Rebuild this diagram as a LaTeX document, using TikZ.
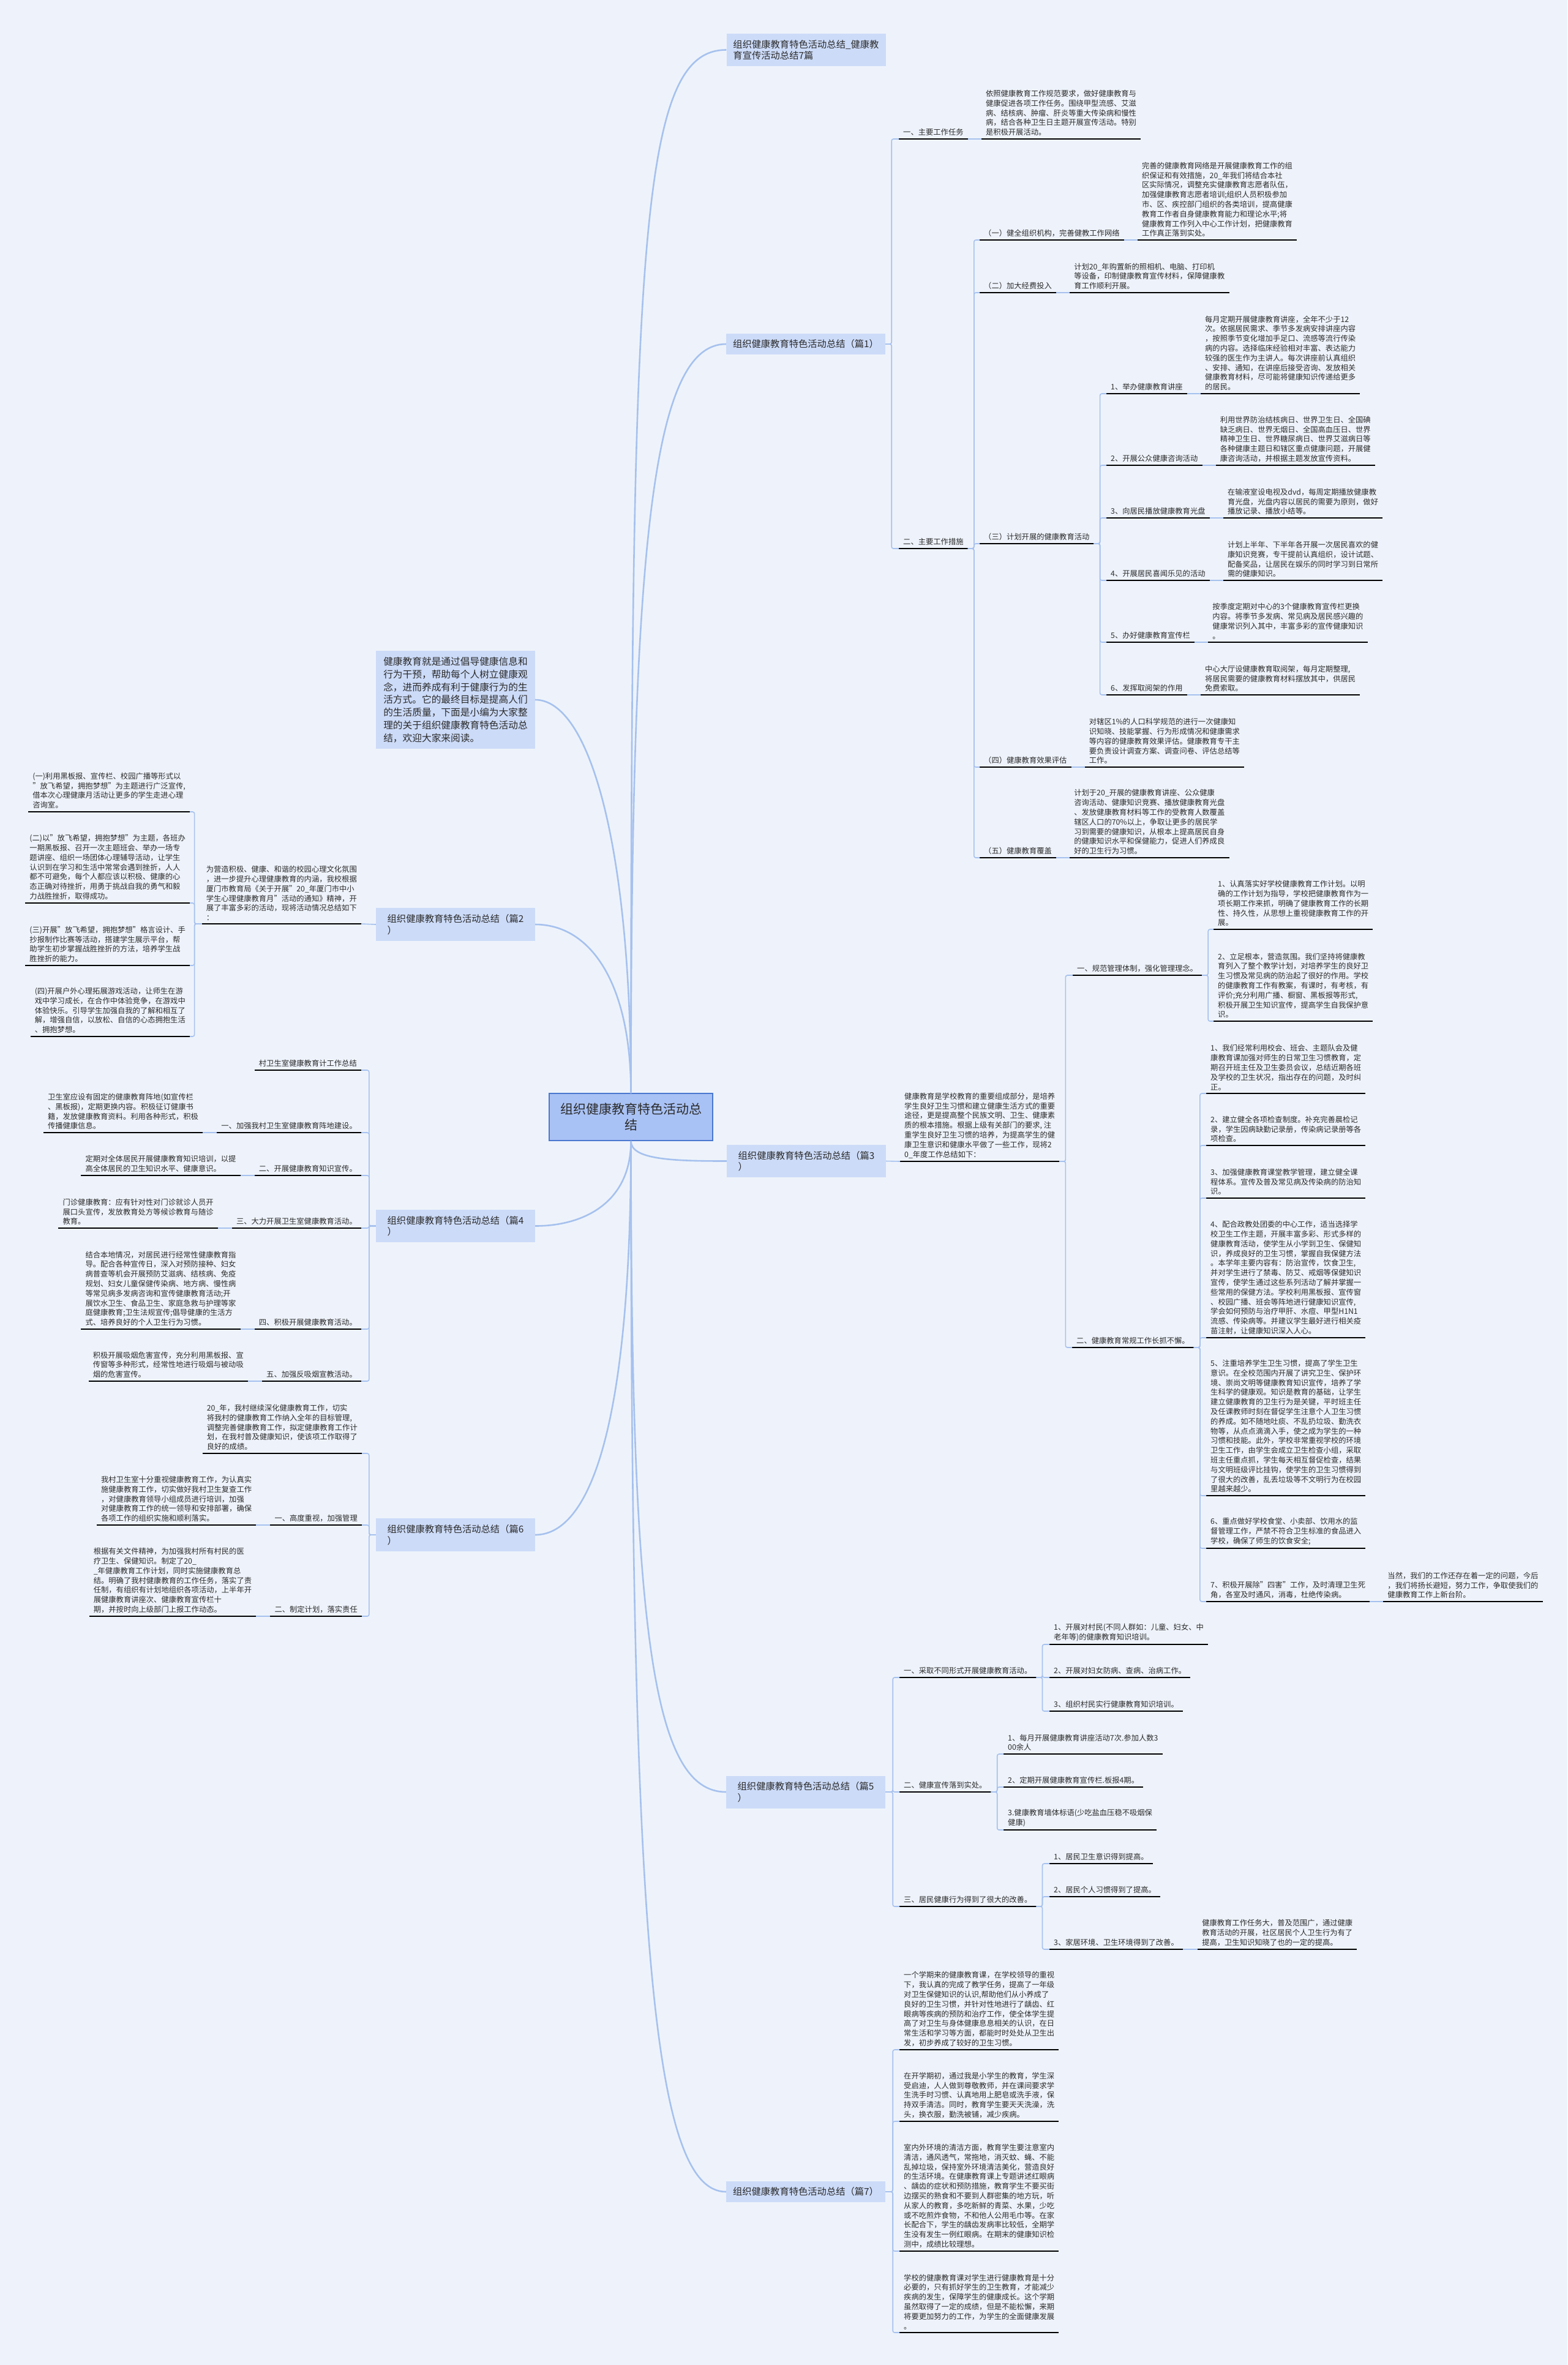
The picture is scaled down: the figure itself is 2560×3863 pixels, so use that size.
\documentclass[tikz,border=0pt]{standalone}
\usepackage{fontspec}
\setmainfont{Noto Sans CJK SC}
\definecolor{blue050}{HTML}{EEF3FB}
\definecolor{blue200}{HTML}{CCDBF8}
\definecolor{blue300}{HTML}{A9C2F5}
\definecolor{blue400}{HTML}{A6C1EE}
\definecolor{blue700}{HTML}{4A78CF}
\definecolor{ink900}{HTML}{2B2B2B}
\newcommand{\txtsmall}{\fontsize{12.3pt}{15.8pt}\selectfont}
\newcommand{\txttopic}{\fontsize{15.3pt}{18.5pt}\selectfont}
\newcommand{\txtintro}{\fontsize{15.7pt}{20.8pt}\selectfont}
\newcommand{\txtroot}{\fontsize{21pt}{26.7pt}\selectfont}
\tikzset{
  rootbox/.style ={fill=blue300, draw=blue700, line width=1.5pt, align=center,
                   minimum width=267pt, minimum height=77pt, font=\txtroot,
                   text=ink900},
  topic/.style   ={fill=blue200, align=left, minimum width=260pt,
                   inner xsep=9pt, inner ysep=10pt, font=\txttopic, text=ink900},
  introbox/.style={fill=blue200, align=left, inner xsep=12pt, inner ysep=10pt,
                   font=\txtintro, text=ink900},
  uline/.style   ={draw=black, line width=2.2pt},
  item/.style    ={font=\txtsmall, text=ink900, align=left, inner xsep=7pt,
                   inner ysep=5pt, anchor=south west,
                   append after command={(\tikzlastnode.south west)
                     edge[uline] (\tikzlastnode.south east)}},
  litem/.style   ={item, anchor=south east},
  link/.style    ={draw=blue400, line width=1.6pt, rounded corners=3pt},
  branch/.style  ={draw=blue400, line width=2.6pt}
}

\begin{document}
\begin{tikzpicture}[x=1pt, y=-1pt]
\useasboundingbox (0,0) rectangle (2560,3863);
\fill[blue050] (0,0) rectangle (2560,3863);

% root and intro
\node[rootbox] (root) at (1030.5,1824.5) {组织健康教育特色活动总\\结};
\node[introbox] (intro) at (744,1143)
  {健康教育就是通过倡导健康信息和\\行为干预，帮助每个人树立健康观\\念，进而养成有利于健康行为的生\\活方式。它的最终目标是提高人们\\的生活质量，下面是小编为大家整\\理的关于组织健康教育特色活动总\\结，欢迎大家来阅读。};

% topics
\node[topic] (b0) at (1316.5,81.5) {组织健康教育特色活动总结\_健康教\\育宣传活动总结7篇};
\node[topic] (b1) at (1316,562) {组织健康教育特色活动总结（篇1）};
\node[topic] (b3) at (1317,1896.5) {组织健康教育特色活动总结（篇3\\）};
\node[topic] (b5) at (1316,2927) {组织健康教育特色活动总结（篇5\\）};
\node[topic] (b7) at (1316,3580) {组织健康教育特色活动总结（篇7）};
\node[topic] (b2) at (744,1510) {组织健康教育特色活动总结（篇2\\）};
\node[topic] (b4) at (744,2002.5) {组织健康教育特色活动总结（篇4\\）};
\node[topic] (b6) at (744,2507) {组织健康教育特色活动总结（篇6\\）};

% --- 篇1
\node[item] (b1a) at (1468,227) {一、主要工作任务};
\node[item] (b1a-t) at ([xshift=22pt]b1a.south east)
  {依照健康教育工作规范要求，做好健康教育与\\健康促进各项工作任务。围绕甲型流感、艾滋\\病、结核病、肿瘤、肝炎等重大传染病和慢性\\病，结合各种卫生日主题开展宣传活动。特别\\是积极开展活动。};
\node[item] (b1b) at (1468,896) {二、主要工作措施};
\node[item] (b1b1) at (1600,392) {（一）健全组织机构，完善健教工作网络};
\node[item] (b1b1-t) at ([xshift=22pt]b1b1.south east)
  {完善的健康教育网络是开展健康教育工作的组\\织保证和有效措施，20\_年我们将结合本社\\区实际情况，调整充实健康教育志愿者队伍，\\加强健康教育志愿者培训;组织人员积极参加\\市、区、疾控部门组织的各类培训，提高健康\\教育工作者自身健康教育能力和理论水平;将\\健康教育工作列入中心工作计划，把健康教育\\工作真正落到实处。};
\node[item] (b1b2) at (1600,478) {（二）加大经费投入};
\node[item] (b1b2-t) at ([xshift=22pt]b1b2.south east)
  {计划20\_年购置新的照相机、电脑、打印机\\等设备，印制健康教育宣传材料，保障健康教\\育工作顺利开展。};
\node[item] (b1b3) at (1600,888) {（三）计划开展的健康教育活动};
\node[item] (b1b3a) at (1807,643) {1、举办健康教育讲座};
\node[item] (b1b3a-t) at ([xshift=22pt]b1b3a.south east)
  {每月定期开展健康教育讲座，全年不少于12\\次。依据居民需求、季节多发病安排讲座内容\\，按照季节变化增加手足口、流感等流行传染\\病的内容。选择临床经验相对丰富、表达能力\\较强的医生作为主讲人。每次讲座前认真组织\\、安排、通知，在讲座后接受咨询、发放相关\\健康教育材料，尽可能将健康知识传递给更多\\的居民。};
\node[item] (b1b3b) at (1807,760) {2、开展公众健康咨询活动};
\node[item] (b1b3b-t) at ([xshift=22pt]b1b3b.south east)
  {利用世界防治结核病日、世界卫生日、全国碘\\缺乏病日、世界无烟日、全国高血压日、世界\\精神卫生日、世界糖尿病日、世界艾滋病日等\\各种健康主题日和辖区重点健康问题，开展健\\康咨询活动，并根据主题发放宣传资料。};
\node[item] (b1b3c) at (1807,846) {3、向居民播放健康教育光盘};
\node[item] (b1b3c-t) at ([xshift=22pt]b1b3c.south east)
  {在输液室设电视及dvd，每周定期播放健康教\\育光盘，光盘内容以居民的需要为原则，做好\\播放记录、播放小结等。};
\node[item] (b1b3d) at (1807,948) {4、开展居民喜闻乐见的活动};
\node[item] (b1b3d-t) at ([xshift=22pt]b1b3d.south east)
  {计划上半年、下半年各开展一次居民喜欢的健\\康知识竞赛，专干提前认真组织，设计试题、\\配备奖品，让居民在娱乐的同时学习到日常所\\需的健康知识。};
\node[item] (b1b3e) at (1807,1049) {5、办好健康教育宣传栏};
\node[item] (b1b3e-t) at ([xshift=22pt]b1b3e.south east)
  {按季度定期对中心的3个健康教育宣传栏更换\\内容。将季节多发病、常见病及居民感兴趣的\\健康常识列入其中，丰富多彩的宣传健康知识\\。};
\node[item] (b1b3f) at (1807,1135) {6、发挥取阅架的作用};
\node[item] (b1b3f-t) at ([xshift=22pt]b1b3f.south east)
  {中心大厅设健康教育取阅架，每月定期整理,\\将居民需要的健康教育材料摆放其中，供居民\\免费索取。};
\node[item] (b1b4) at (1600,1253) {（四）健康教育效果评估};
\node[item] (b1b4-t) at ([xshift=22pt]b1b4.south east)
  {对辖区1\%的人口科学规范的进行一次健康知\\识知晓、技能掌握、行为形成情况和健康需求\\等内容的健康教育效果评估。健康教育专干主\\要负责设计调查方案、调查问卷、评估总结等\\工作。};
\node[item] (b1b5) at (1600,1401) {（五）健康教育覆盖};
\node[item] (b1b5-t) at ([xshift=22pt]b1b5.south east)
  {计划于20\_开展的健康教育讲座、公众健康\\咨询活动、健康知识竞赛、播放健康教育光盘\\、发放健康教育材料等工作的受教育人数覆盖\\辖区人口的70\%以上，争取让更多的居民学\\习到需要的健康知识，从根本上提高居民自身\\的健康知识水平和保健能力，促进人们养成良\\好的卫生行为习惯。};

% --- 篇3
\node[item] (b3t) at (1470,1897)
  {健康教育是学校教育的重要组成部分，是培养\\学生良好卫生习惯和建立健康生活方式的重要\\途径，更是提高整个民族文明、卫生、健康素\\质的根本措施。根据上级有关部门的要求, 注\\重学生良好卫生习惯的培养，为提高学生的健\\康卫生意识和健康水平做了一些工作，现将2\\0\_年度工作总结如下：};
\node[item] (b3a) at (1752,1593) {一、规范管理体制，强化管理理念。};
\node[item] (b3a1) at (1982,1518)
  {1、认真落实好学校健康教育工作计划。以明\\确的工作计划为指导，学校把健康教育作为一\\项长期工作来抓，明确了健康教育工作的长期\\性、持久性，从思想上重视健康教育工作的开\\展。};
\node[item] (b3a2) at (1982,1668)
  {2、立足根本，营造氛围。我们坚持将健康教\\育列入了整个教学计划，对培养学生的良好卫\\生习惯及常见病的防治起了很好的作用。学校\\的健康教育工作有教案，有课时，有考核，有\\评价;充分利用广播、橱窗、黑板报等形式,\\积极开展卫生知识宣传，提高学生自我保护意\\识。};
\node[item] (b3b) at (1751,2201) {二、健康教育常规工作长抓不懈。};
\node[item] (b3b1) at (1970,1786)
  {1、我们经常利用校会、班会、主题队会及健\\康教育课加强对师生的日常卫生习惯教育，定\\期召开班主任及卫生委员会议，总结近期各班\\及学校的卫生状况，指出存在的问题，及时纠\\正。};
\node[item] (b3b2) at (1970,1871)
  {2、建立健全各项检查制度。补充完善晨检记\\录，学生因病缺勤记录册，传染病记录册等各\\项检查。};
\node[item] (b3b3) at (1970,1957)
  {3、加强健康教育课堂教学管理，建立健全课\\程体系。宣传及普及常见病及传染病的防治知\\识。};
\node[item] (b3b4) at (1970,2185)
  {4、配合政教处团委的中心工作，适当选择学\\校卫生工作主题，开展丰富多彩、形式多样的\\健康教育活动，使学生从小学到卫生、保健知\\识，养成良好的卫生习惯，掌握自我保健方法\\。本学年主要内容有：防治宣传，饮食卫生,\\并对学生进行了禁毒、防艾、戒烟等保健知识\\宣传，使学生通过这些系列活动了解并掌握一\\些常用的保健方法。学校利用黑板报、宣传窗\\、校园广播、班会等阵地进行健康知识宣传,\\学会如何预防与治疗甲肝、水痘、甲型H1N1\\流感、传染病等。并建议学生最好进行相关疫\\苗注射，让健康知识深入人心。};
\node[item] (b3b5) at (1970,2443)
  {5、注重培养学生卫生习惯，提高了学生卫生\\意识。在全校范围内开展了讲究卫生、保护环\\境、崇尚文明等健康教育知识宣传，培养了学\\生科学的健康观。知识是教育的基础，让学生\\建立健康教育的卫生行为是关键，平时班主任\\及任课教师时刻在督促学生注意个人卫生习惯\\的养成。如不随地吐痰、不乱扔垃圾、勤洗衣\\物等，从点点滴滴入手，使之成为学生的一种\\习惯和技能。此外，学校非常重视学校的环境\\卫生工作，由学生会成立卫生检查小组，采取\\班主任重点抓，学生每天相互督促检查，结果\\与文明班级评比挂钩，使学生的卫生习惯得到\\了很大的改善，乱丢垃圾等不文明行为在校园\\里越来越少。};
\node[item] (b3b6) at (1970,2529)
  {6、重点做好学校食堂、小卖部、饮用水的监\\督管理工作，严禁不符合卫生标准的食品进入\\学校，确保了师生的饮食安全;};
\node[item] (b3b7) at (1970,2616)
  {7、积极开展除"四害"工作，及时清理卫生死\\角，各室及时通风，消毒，杜绝传染病。};
\node[item] (b3b7-t) at ([xshift=22pt]b3b7.south east)
  {当然，我们的工作还存在着一定的问题，今后\\，我们将扬长避短，努力工作，争取使我们的\\健康教育工作上新台阶。};

% --- 篇5
\node[item] (b5a) at (1469,2740) {一、采取不同形式开展健康教育活动。};
\node[item] (b5a1) at (1714,2686) {1、开展对村民(不同人群如：儿童、妇女、中\\老年等)的健康教育知识培训。};
\node[item] (b5a2) at (1714,2740) {2、开展对妇女防病、查病、治病工作。};
\node[item] (b5a3) at (1714,2795) {3、组织村民实行健康教育知识培训。};
\node[item] (b5b) at (1469,2927) {二、健康宣传落到实处。};
\node[item] (b5b1) at (1639,2865) {1、每月开展健康教育讲座活动7次.参加人数3\\00余人};
\node[item] (b5b2) at (1639,2919) {2、定期开展健康教育宣传栏.板报4期。};
\node[item] (b5b3) at (1639,2989) {3.健康教育墙体标语(少吃盐血压稳不吸烟保\\健康)};
\node[item] (b5c) at (1469,3114) {三、居民健康行为得到了很大的改善。};
\node[item] (b5c1) at (1714,3044) {1、居民卫生意识得到提高。};
\node[item] (b5c2) at (1714,3098) {2、居民个人习惯得到了提高。};
\node[item] (b5c3) at (1714,3184) {3、家居环境、卫生环境得到了改善。};
\node[item] (b5c3-t) at ([xshift=24pt]b5c3.south east)
  {健康教育工作任务大，普及范围广，通过健康\\教育活动的开展，社区居民个人卫生行为有了\\提高，卫生知识知晓了也的一定的提高。};

% --- 篇7
\node[item] (b7a) at (1469,3348)
  {一个学期来的健康教育课，在学校领导的重视\\下，我认真的完成了教学任务，提高了一年级\\对卫生保健知识的认识,帮助他们从小养成了\\良好的卫生习惯，并针对性地进行了龋齿、红\\眼病等疾病的预防和治疗工作，使全体学生提\\高了对卫生与身体健康息息相关的认识，在日\\常生活和学习等方面，都能时时处处从卫生出\\发，初步养成了较好的卫生习惯。};
\node[item] (b7b) at (1469,3465)
  {在开学期初，通过我是小学生的教育，学生深\\受启迪，人人做到尊敬教师，并在课间要求学\\生洗手时习惯、认真地用上肥皂或洗手液，保\\持双手清洁。同时，教育学生要天天洗澡，洗\\头，换衣服，勤洗被铺，减少疾病。};
\node[item] (b7c) at (1469,3677)
  {室内外环境的清洁方面，教育学生要注意室内\\清洁，通风透气，常拖地，消灭蚊、蝇、不能\\乱掉垃圾，保持室外环境清洁美化，营造良好\\的生活环境。在健康教育课上专题讲述红眼病\\、龋齿的症状和预防措施，教育学生不要买街\\边摆买的熟食和不要到人群密集的地方玩，听\\从家人的教育，多吃新鲜的青菜、水果，少吃\\或不吃煎炸食物，不和他人公用毛巾等。在家\\长配合下，学生的龋齿发病率比较低，全期学\\生没有发生一例红眼病。在期末的健康知识检\\测中，成绩比较理想。};
\node[item] (b7d) at (1469,3810)
  {学校的健康教育课对学生进行健康教育是十分\\必要的，只有抓好学生的卫生教育，才能减少\\疾病的发生，保障学生的健康成长。这个学期\\虽然取得了一定的成绩，但是不能松懈，来期\\将要更加努力的工作，为学生的全面健康发展\\。};

% --- 篇2
\node[litem] (b2t) at (590,1509)
  {为营造积极、健康、和谐的校园心理文化氛围\\，进一步提升心理健康教育的内涵，我校根据\\厦门市教育局《关于开展"20\_年厦门市中小\\学生心理健康教育月"活动的通知》精神，开\\展了丰富多彩的活动，现将活动情况总结如下\\：};
\node[litem] (b2a) at (310,1326)
  {(一)利用黑板报、宣传栏、校园广播等形式以\\"放飞希望，拥抱梦想"为主题进行广泛宣传,\\借本次心理健康月活动让更多的学生走进心理\\咨询室。};
\node[litem] (b2b) at (310,1475)
  {(二)以"放飞希望，拥抱梦想"为主题，各班办\\一期黑板报、召开一次主题班会、举办一场专\\题讲座、组织一场团体心理辅导活动，让学生\\认识到在学习和生活中常常会遇到挫折，人人\\都不可避免，每个人都应该以积极、健康的心\\态正确对待挫折，用勇于挑战自我的勇气和毅\\力战胜挫折，取得成功。};
\node[litem] (b2c) at (310,1577)
  {(三)开展"放飞希望，拥抱梦想"格言设计、手\\抄报制作比赛等活动，搭建学生展示平台，帮\\助学生初步掌握战胜挫折的方法，培养学生战\\胜挫折的能力。};
\node[litem] (b2d) at (310,1693)
  {(四)开展户外心理拓展游戏活动，让师生在游\\戏中学习成长，在合作中体验竞争，在游戏中\\体验快乐。引导学生加强自我的了解和相互了\\解，增强自信，以放松、自信的心态拥抱生活\\、拥抱梦想。};

% --- 篇4
\node[litem] (b4a) at (590,1748) {村卫生室健康教育计工作总结};
\node[litem] (b4b) at (590,1850) {一、加强我村卫生室健康教育阵地建设。};
\node[litem] (b4b-t) at ([xshift=-23pt]b4b.south west)
  {卫生室应设有固定的健康教育阵地(如宣传栏\\、黑板报)，定期更换内容。积极征订健康书\\籍，发放健康教育资料。利用各种形式，积极\\传播健康信息。};
\node[litem] (b4c) at (590,1920) {二、开展健康教育知识宣传。};
\node[litem] (b4c-t) at ([xshift=-23pt]b4c.south west)
  {定期对全体居民开展健康教育知识培训，以提\\高全体居民的卫生知识水平、健康意识。};
\node[litem] (b4d) at (590,2006) {三、大力开展卫生室健康教育活动。};
\node[litem] (b4d-t) at ([xshift=-23pt]b4d.south west)
  {门诊健康教育：应有针对性对门诊就诊人员开\\展口头宣传，发放教育处方等候诊教育与随诊\\教育。};
\node[litem] (b4e) at (590,2171) {四、积极开展健康教育活动。};
\node[litem] (b4e-t) at ([xshift=-23pt]b4e.south west)
  {结合本地情况，对居民进行经常性健康教育指\\导。配合各种宣传日，深入对预防接种、妇女\\病普查等机会开展预防艾滋病、结核病、免疫\\规划、妇女儿童保健传染病、地方病、慢性病\\等常见病多发病咨询和宣传健康教育活动;开\\展饮水卫生、食品卫生、家庭急救与护理等家\\庭健康教育;卫生法规宣传;倡导健康的生活方\\式、培养良好的个人卫生行为习惯。};
\node[litem] (b4f) at (590,2256) {五、加强反吸烟宣教活动。};
\node[litem] (b4f-t) at ([xshift=-23pt]b4f.south west)
  {积极开展吸烟危害宣传，充分利用黑板报、宣\\传窗等多种形式，经常性地进行吸烟与被动吸\\烟的危害宣传。};

% --- 篇6
\node[litem] (b6a) at (591,2374)
  {20\_年，我村继续深化健康教育工作，切实\\将我村的健康教育工作纳入全年的目标管理,\\调整完善健康教育工作，拟定健康教育工作计\\划，在我村普及健康知识，使该项工作取得了\\良好的成绩。};
\node[litem] (b6b) at (591,2491) {一、高度重视，加强管理};
\node[litem] (b6b-t) at ([xshift=-23pt]b6b.south west)
  {我村卫生室十分重视健康教育工作，为认真实\\施健康教育工作，切实做好我村卫生复查工作\\，对健康教育领导小组成员进行培训，加强\\对健康教育工作的统一领导和安排部署，确保\\各项工作的组织实施和顺利落实。};
\node[litem] (b6c) at (591,2640) {二、制定计划，落实责任};
\node[litem] (b6c-t) at ([xshift=-23pt]b6c.south west)
  {根据有关文件精神，为加强我村所有村民的医\\疗卫生、保健知识。制定了20\_\\\_年健康教育工作计划，同时实施健康教育总\\结。明确了我村健康教育的工作任务，落实了责\\任制，有组织有计划地组织各项活动，上半年开\\展健康教育讲座次、健康教育宣传栏十\\期，并按时向上级部门上报工作动态。};

% branches from the root
\draw[branch] (root.north) .. controls +(0,-1400) and +(-140,0) .. (b0.west);
\draw[branch] (root.north) .. controls +(0,-900) and +(-120,0) .. (b1.west);
\draw[branch] (root.north) .. controls +(0,-400) and +(90,0) .. (intro.east);
\draw[branch] (root.north) .. controls +(0,-180) and +(90,0) .. (b2.east);
\draw[branch] (root.south) .. controls +(0,30) and +(-90,0) .. (b3.west);
\draw[branch] (root.south) .. controls +(0,100) and +(80,0) .. (b4.east);
\draw[branch] (root.south) .. controls +(0,500) and +(80,0) .. (b6.east);
\draw[branch] (root.south) .. controls +(0,800) and +(-120,0) .. (b5.west);
\draw[branch] (root.south) .. controls +(0,1300) and +(-120,0) .. (b7.west);

% right side links
\foreach \c in {b1a,b1b} \draw[link] (b1.east) -- ++(10,0) |- (\c.south west);
\foreach \c in {b1b1,b1b2,b1b3,b1b4,b1b5}
  \draw[link] (b1b.south east) -- ++(10,0) |- (\c.south west);
\foreach \c in {b1b3a,b1b3b,b1b3c,b1b3d,b1b3e,b1b3f}
  \draw[link] (b1b3.south east) -- ++(10,0) |- (\c.south west);
\foreach \p in {b1a,b1b1,b1b2,b1b3a,b1b3b,b1b3c,b1b3d,b1b3e,b1b3f,b1b4,b1b5,b3b7,b5c3}
  \draw[link] (\p.south east) -- (\p-t.south west);
\draw[link] (b3.east) -- (b3t.south west);
\foreach \c in {b3a,b3b} \draw[link] (b3t.south east) -- ++(10,0) |- (\c.south west);
\foreach \c in {b3a1,b3a2} \draw[link] (b3a.south east) -- ++(10,0) |- (\c.south west);
\foreach \c in {b3b1,b3b2,b3b3,b3b4,b3b5,b3b6,b3b7}
  \draw[link] (b3b.south east) -- ++(10,0) |- (\c.south west);
\foreach \c in {b5a,b5b,b5c} \draw[link] (b5.east) -- ++(12,0) |- (\c.south west);
\foreach \c in {b5a1,b5a2,b5a3} \draw[link] (b5a.south east) -- ++(10,0) |- (\c.south west);
\foreach \c in {b5b1,b5b2,b5b3} \draw[link] (b5b.south east) -- ++(10,0) |- (\c.south west);
\foreach \c in {b5c1,b5c2,b5c3} \draw[link] (b5c.south east) -- ++(10,0) |- (\c.south west);
\foreach \c in {b7a,b7b,b7c,b7d} \draw[link] (b7.east) -- ++(12,0) |- (\c.south west);

% left side links
\draw[link] (b2.west) -- (b2t.south east);
\foreach \c in {b2a,b2b,b2c,b2d} \draw[link] (b2t.south west) -- ++(-12,0) |- (\c.south east);
\foreach \c in {b4a,b4b,b4c,b4d,b4e,b4f} \draw[link] (b4.west) -- ++(-11,0) |- (\c.south east);
\foreach \c in {b6a,b6b,b6c} \draw[link] (b6.west) -- ++(-11,0) |- (\c.south east);
\foreach \p in {b4b,b4c,b4d,b4e,b4f,b6b,b6c}
  \draw[link] (\p.south west) -- (\p-t.south east);
\end{tikzpicture}
\end{document}
